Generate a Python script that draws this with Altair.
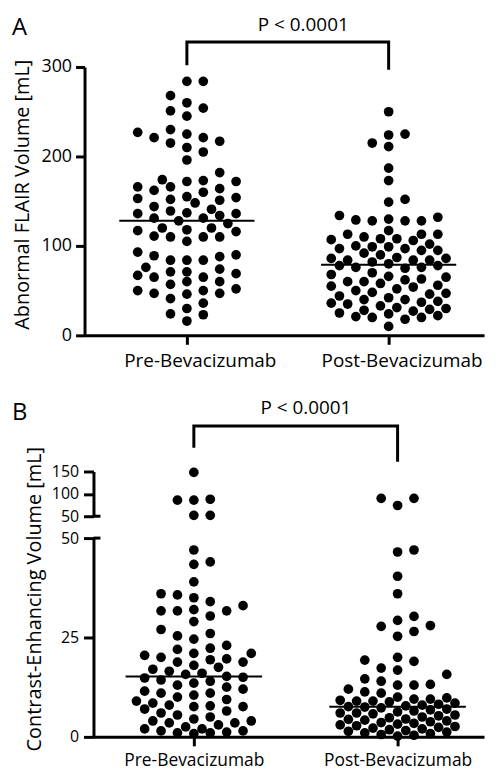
import math
import altair as alt
import pandas as pd

# ---------------- data ----------------
categories = ["Pre-Bevacizumab", "Post-Bevacizumab"]

flair_pre = [284, 284, 268, 260, 254, 251, 245, 230, 227, 225, 221, 221, 217, 215,
             210, 205, 196, 182, 174, 173, 172, 172, 166, 166, 164, 162, 160, 155,
             154, 153, 152, 151, 148, 144, 141, 139, 137, 136, 136, 134, 131, 131,
             128, 125, 120, 120, 118, 117, 116, 111, 110, 110, 110, 105, 93, 90, 89,
             88, 84, 84, 84, 76, 74, 71, 71, 69, 67, 65, 65, 60, 60, 57, 52, 50, 50,
             47, 47, 46, 41, 36, 30, 24, 23, 16]

flair_post = [250, 225, 224, 215, 211, 187, 173, 152, 149,
              134, 132, 130, 129, 128, 128, 128,
              117, 113, 113, 113, 110, 108, 108, 107, 106, 102, 99,
              100, 99, 97, 97, 95, 95, 92, 90, 87,
              86, 86, 84, 84, 84, 82, 80, 78, 78, 76, 76, 75,
              70, 68, 66, 65, 63, 62, 60, 60,
              58, 56, 55, 54, 52, 50, 48, 47, 46,
              44, 42, 40, 40, 38, 37, 36, 35,
              33, 31, 30, 29, 28, 27,
              25, 24, 22, 21, 20, 20, 18,
              10]

ce_pre = [148, 86, 88, 86, 52, 52,
          47, 44, 43.4, 39, 36, 35.7, 35, 34, 33, 32,
          31.7, 31.7, 31.7, 30.4, 29, 27, 26, 25.4, 24.6, 23,
          22.3, 22, 21, 21, 20.5, 20, 19.6, 19.4, 18.8, 18.8,
          18, 17.5, 17, 16.5, 16, 15.7, 15.2, 15, 14.8, 14.3,
          14, 13.5, 13, 12.5, 12, 11.5, 11, 11, 10.5, 10,
          9.4, 9, 8.5, 8, 7.8, 7.6, 7.6, 7, 6.5, 6,
          5.5, 5, 4.5, 4, 4, 3.5, 3.5, 3, 2.5, 2,
          2, 1.5, 1.5, 1.2, 1, 1, 0.8]

ce_post = [90, 74, 90,
           47, 46.5, 40.4, 36, 30.3, 29.3, 28, 27.8, 26.5, 25.3,
           20, 19.3, 19, 17.3, 16.8, 15.7, 14.6, 14, 13.2, 13, 13, 12, 11.3, 11,
           10, 9.8, 9.5, 9.5, 9.2, 9, 9, 8.8,
           8.5, 8.2, 8, 7.8, 7.6, 7.5, 7.3, 7,
           6.8, 6.5, 6.3, 6, 6, 5.8, 5.5, 5.3,
           5, 4.8, 4.5, 4.4, 4.2, 4, 3.8, 3.6,
           3.4, 3.2, 3, 2.8, 2.6, 2.4, 2.2, 2,
           1.8, 1.6, 1.4, 1.2, 1, 0.8, 0.6, 0.4, 0.2]

flair_median = [128, 79]
ce_median = [15.2, 7.6]

flair_ticks = [0, 100, 200, 300]
ce_low_ticks = [0, 25, 50]
ce_high_ticks = [50, 100, 150]
ce_break = 50

p_text = "P < 0.0001"
bracket_x = [0, 0, 1, 1]
flair_bracket_y = [302, 328, 328, 297]
ce_bracket_y = [203, 252, 252, 172]
flair_p_pos = [0.577, 347]
ce_p_pos = [0.55, 292]

panel_labels = ["A", "B"]

# ---------------- layout helpers ----------------
FONT = "Open Sans"
COL_PX = 16.5     # spacing of dot columns
DOT_PX = 11.0     # dot diameter
DOT_SIZE = 95
PLOT_W = 393


def swarm(values, unit_px):
    """Column beeswarm: returns column offsets (in column units) for each value."""
    order = sorted(range(len(values)), key=lambda i: values[i])
    placed = []
    offs = [0.0] * len(values)
    flip = 1
    for i in order:
        y = values[i] * unit_px
        cands = [0.0]
        for k in (1, 2, 3, 0.5, 1.5, 2.5, 3.5):
            cands += [flip * k, -flip * k]
        chosen = None
        best_c, best_d = 0.0, -1.0
        for c in cands:
            x = c * COL_PX
            d = min((math.hypot(x - px, y - py) for px, py in placed), default=1e9)
            if d >= DOT_PX:
                chosen = c
                break
            if d > best_d:
                best_d, best_c = d, c
        if chosen is None:
            chosen = best_c
        if chosen != 0:
            flip = -flip
        placed.append((chosen * COL_PX, y))
        offs[i] = chosen
    return offs


def points_frame(groups, unit_px, group_px):
    rows = []
    for gi, vals in enumerate(groups):
        offs = swarm(vals, unit_px)
        for v, o in zip(vals, offs):
            rows.append({"x": gi + o * COL_PX / group_px, "y": v})
    return pd.DataFrame(rows)


def median_frame(meds):
    return pd.DataFrame({"x": [i - 0.335 for i in range(len(meds))],
                         "x2": [i + 0.335 for i in range(len(meds))],
                         "y": meds})


def x_domain(r0, r1, p0, p1):
    """domain so that category 0 sits at pixel p0 and 1 at p1 in range [r0, r1]"""
    g = p1 - p0
    return [(r0 - p0) / g, (r1 - p0) / g]


lab_expr = f"datum.value == 0 ? '{categories[0]}' : '{categories[1]}'"

# ---------------- panel A ----------------
A_H = 270
A_GROUP_PX = 203
xA = alt.Scale(domain=x_domain(-9, PLOT_W, 94, 297), range=[-9, PLOT_W], nice=False, zero=False)
yA = alt.Scale(domain=[0, 300], nice=False, zero=False)
axA_x = alt.Axis(values=[0, 1], labelExpr=lab_expr, title=None, grid=False,
                 labelFontSize=19, labelOffset=13, labelPadding=7, tickSize=9,
                 labelFlush=False, labelOverlap=False, labelBound=False)
axA_y = alt.Axis(values=flair_ticks, title="Abnormal FLAIR Volume [mL]", offset=9,
                 tickSize=9, labelFontSize=18, labelPadding=4, titleFontSize=20,
                 titlePadding=8, titleY=128, grid=False)

ptsA = points_frame([flair_pre, flair_post], 0.9, A_GROUP_PX)
medA = median_frame(flair_median)
brA = pd.DataFrame({"x": bracket_x, "y": flair_bracket_y, "o": [0, 1, 2, 3]})
pA = pd.DataFrame({"x": [flair_p_pos[0]], "y": [flair_p_pos[1]], "t": [p_text]})

A_points = alt.Chart(ptsA).mark_circle(size=DOT_SIZE, color="black", opacity=1).encode(
    x=alt.X("x:Q", scale=xA, axis=axA_x),
    y=alt.Y("y:Q", scale=yA, axis=axA_y))
A_med = alt.Chart(medA).mark_rule(color="black", strokeWidth=2).encode(
    x=alt.X("x:Q", scale=xA, axis=axA_x), x2="x2:Q",
    y=alt.Y("y:Q", scale=yA, axis=axA_y))
A_br = alt.Chart(brA).mark_line(color="black", strokeWidth=3, strokeJoin="miter").encode(
    x=alt.X("x:Q", scale=xA, axis=axA_x),
    y=alt.Y("y:Q", scale=yA, axis=axA_y), order="o:Q")
A_p = alt.Chart(pA).mark_text(font=FONT, fontSize=19, color="black").encode(
    x=alt.X("x:Q", scale=xA, axis=axA_x),
    y=alt.Y("y:Q", scale=yA, axis=axA_y), text="t:N")
A_lab = alt.Chart(pd.DataFrame({"t": [panel_labels[0]]})).mark_text(
    font=FONT, fontSize=24, color="black", align="left", baseline="alphabetic").encode(
    x=alt.value(-82), y=alt.value(-32), text="t:N")

panelA = alt.layer(A_points, A_med, A_br, A_p, A_lab).properties(width=PLOT_W, height=A_H)

# ---------------- panel B ----------------
B_H = 267
B_GROUP_PX = 205
xB = alt.Scale(domain=x_domain(0, PLOT_W, 101, 306), range=[0, PLOT_W], nice=False, zero=False)
yB_hi = alt.Scale(domain=[50, 150], range=[45, 0], nice=False, zero=False)
yB_lo = alt.Scale(domain=[0, 50], range=[B_H, 67], nice=False, zero=False)
axB_x = alt.Axis(values=[0, 1], labelExpr=lab_expr, title=None, grid=False,
                 labelFontSize=17.5, labelOffset=0, labelPadding=6, tickSize=9,
                 labelFlush=False, labelOverlap=False, labelBound=False)
axB_hi = alt.Axis(values=ce_high_ticks, title=None, orient="left", tickSize=10,
                  labelFontSize=16, labelPadding=5, grid=False)
axB_lo = alt.Axis(values=ce_low_ticks, title="Contrast-Enhancing Volume [mL]",
                  orient="left", tickSize=10, labelFontSize=16, labelPadding=5,
                  titleFontSize=20, titlePadding=16, titleY=128, grid=False)

hi_groups = [[v for v in ce_pre if v > ce_break], [v for v in ce_post if v > ce_break]]
lo_groups = [[v for v in ce_pre if v <= ce_break], [v for v in ce_post if v <= ce_break]]
ptsB_hi = points_frame(hi_groups, 0.45, B_GROUP_PX)
ptsB_lo = points_frame(lo_groups, 4.0, B_GROUP_PX)
medB = median_frame(ce_median)
brB = pd.DataFrame({"x": bracket_x, "y": ce_bracket_y, "o": [0, 1, 2, 3]})
pB = pd.DataFrame({"x": [ce_p_pos[0]], "y": [ce_p_pos[1]], "t": [p_text]})

B_hi_pts = alt.Chart(ptsB_hi).mark_circle(size=DOT_SIZE, color="black", opacity=1).encode(
    x=alt.X("x:Q", scale=xB, axis=axB_x),
    y=alt.Y("y:Q", scale=yB_hi, axis=axB_hi))
B_br = alt.Chart(brB).mark_line(color="black", strokeWidth=3, strokeJoin="miter").encode(
    x=alt.X("x:Q", scale=xB, axis=axB_x),
    y=alt.Y("y:Q", scale=yB_hi, axis=axB_hi), order="o:Q")
B_p = alt.Chart(pB).mark_text(font=FONT, fontSize=19, color="black").encode(
    x=alt.X("x:Q", scale=xB, axis=axB_x),
    y=alt.Y("y:Q", scale=yB_hi, axis=axB_hi), text="t:N")
B_hi_cap = alt.Chart(pd.DataFrame({"y": [ce_break]})).mark_rule(color="black", strokeWidth=3).encode(
    x=alt.value(0), x2=alt.value(7),
    y=alt.Y("y:Q", scale=yB_hi, axis=axB_hi))
B_lab = alt.Chart(pd.DataFrame({"t": [panel_labels[1]]})).mark_text(
    font=FONT, fontSize=24, color="black", align="left", baseline="alphabetic").encode(
    x=alt.value(-82), y=alt.value(-52), text="t:N")

B_lo_pts = alt.Chart(ptsB_lo).mark_circle(size=DOT_SIZE, color="black", opacity=1).encode(
    x=alt.X("x:Q", scale=xB, axis=axB_x),
    y=alt.Y("y:Q", scale=yB_lo, axis=axB_lo))
B_med = alt.Chart(medB).mark_rule(color="black", strokeWidth=2).encode(
    x=alt.X("x:Q", scale=xB, axis=axB_x), x2="x2:Q",
    y=alt.Y("y:Q", scale=yB_lo, axis=axB_lo))
B_lo_cap = alt.Chart(pd.DataFrame({"y": [ce_break]})).mark_rule(color="black", strokeWidth=3).encode(
    x=alt.value(0), x2=alt.value(7),
    y=alt.Y("y:Q", scale=yB_lo, axis=axB_lo))

upper = alt.layer(B_hi_pts, B_br, B_p, B_hi_cap, B_lab)
lower = alt.layer(B_lo_pts, B_med, B_lo_cap)
panelB = alt.layer(upper, lower).resolve_scale(y="independent").properties(width=PLOT_W, height=B_H)

chart = alt.vconcat(panelA, panelB, spacing=29).properties(
    padding={"left": 4, "top": 5, "right": 0, "bottom": 2}
).configure_view(stroke=None).configure_axis(
    domainColor="black", domainWidth=3, tickColor="black", tickWidth=3,
    labelColor="black", titleColor="black", labelFont=FONT, titleFont=FONT,
    titleFontWeight="normal"
)

chart.save("out.html", embed_options={"renderer": "svg", "actions": False})
